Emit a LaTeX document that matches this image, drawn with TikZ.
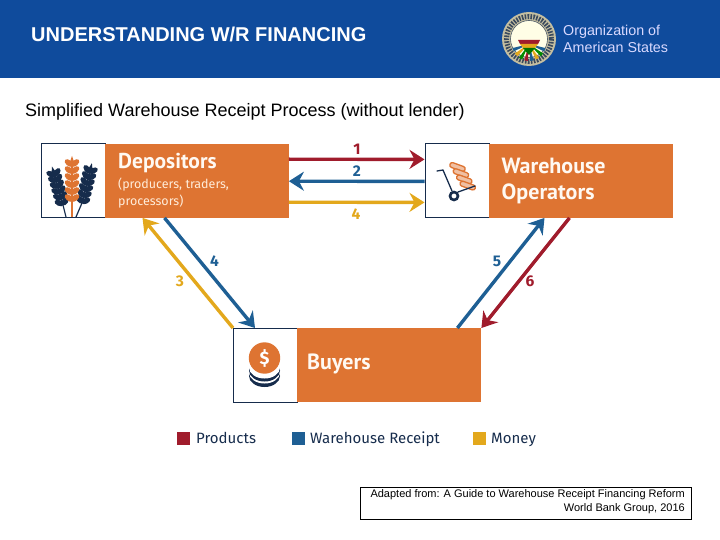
\documentclass[tikz,border=0pt]{standalone}
\usepackage{fontspec}
\setmainfont{Liberation Sans}
\newfontfamily\labelfont{Fira Sans}
\newfontfamily\titlefont{PT Sans}
\usetikzlibrary{arrows.meta}
\definecolor{headerblue}{RGB}{15,75,156}
\definecolor{boxorange}{RGB}{222,116,50}
\definecolor{arrowred}{RGB}{160,28,44}
\definecolor{arrowblue}{RGB}{30,95,148}
\definecolor{arrowyellow}{RGB}{227,168,28}
\definecolor{iconnavy}{RGB}{22,44,76}
\definecolor{logotan}{RGB}{196,190,160}
\tikzstyle{iconbox} = [draw=iconnavy, fill=white, line width=0.8pt, minimum width=64pt, minimum height=74pt, inner sep=0pt, anchor=north west]
\tikzstyle{namebox} = [fill=boxorange, minimum width=184pt, minimum height=74pt, inner sep=0pt, anchor=north west]
\tikzstyle{boxtitle} = [font=\titlefont\bfseries\fontsize{22}{24}\selectfont, text=white!95!orange, anchor=west, inner sep=0pt]
\tikzstyle{boxsub} = [font=\labelfont\fontsize{12.5}{15}\selectfont, text=white!85!orange, anchor=west, inner sep=0pt]
\tikzstyle{num} = [font=\labelfont\bfseries\fontsize{15.5}{17}\selectfont, inner sep=0pt]
\tikzstyle{flow} = [line width=3.4pt, -{Stealth[length=15pt,width=19pt,inset=5pt]}]
\tikzstyle{legendsq} = [minimum size=13pt, inner sep=0pt, anchor=north west]
\tikzstyle{legendtxt} = [font=\labelfont\fontsize{15}{17}\selectfont, text=iconnavy, anchor=west, inner sep=0pt]
% wheat ear: x, y, lean, length, colour
\def\wheathead(#1,#2,#3,#4,#5){
\begin{scope}[shift={(#1,#2)},rotate=#3]
\foreach \t in {0,1,...,5} {
  \fill [#5] (-3.2,{-3-(#4-10)/5*\t}) ellipse [x radius=4.8, y radius=2.9, rotate=-40];
  \fill [#5] (3.2,{-3-(#4-10)/5*\t}) ellipse [x radius=4.8, y radius=2.9, rotate=40];
}
\fill [#5] (0,{-#4}) -- (-3.5,{-#4+10}) -- (3.5,{-#4+10}) -- cycle;
\fill [#5] (-1,0) rectangle (1,{-#4+6});
\end{scope}
}
\begin{document}
\begin{tikzpicture}[x=1pt,y=-1pt]
\useasboundingbox (0,0) rectangle (720,540);
% header
\fill [headerblue] (0,0) rectangle (720,78);
\node (title) [anchor=west, inner sep=0pt, text=white, font=\bfseries\fontsize{20}{22}\selectfont] at (31,34) {UNDERSTANDING W/R FINANCING};
\node (orgname) [anchor=west, inner sep=0pt, align=left, text=white!85!blue, font=\fontsize{14.3}{17}\selectfont] at (563,39) {Organization of\\American States};
% logo
\fill [logotan] (529,39) circle (27);
\draw [iconnavy!80!logotan, line width=5pt, dash pattern=on 1.6pt off 1.3pt] (529,39) circle (22.5);
\fill [white!90!yellow] (529,39) circle (18.5);
\draw [iconnavy!70!logotan, line width=0.6pt] (529,39) circle (18.5);
\foreach \a/\c in {-70/arrowblue,-50/green!55!black,-30/arrowyellow,-10/arrowblue,10/arrowred,30/green!55!black,50/arrowyellow,70/arrowblue} {
  \fill [\c] (529,44) -- ++({\a+90-6}:17) -- ++({\a+90+90}:3.6) -- cycle;
}
\fill [arrowred] (518,40) -- (540,40) -- (538,44) -- (520,44) -- cycle;
\fill [arrowyellow] (520,44) -- (538,44) -- (535,48) -- (523,48) -- cycle;
\fill [green!45!black] (523,48) -- (535,48) -- (529,55) -- cycle;
% subtitle
\node (subtitle) [anchor=west, inner sep=0pt, font=\fontsize{18}{21}\selectfont] at (25,111.5) {Simplified Warehouse Receipt Process (without lender)};
% boxes
\node (depicon) [iconbox] at (40.5,143.5) {};
\node (depbox) [namebox] at (104.5,143.5) {};
\node (whicon) [iconbox] at (424.5,143.5) {};
\node (whbox) [namebox] at (488.5,143.5) {};
\node (buyicon) [iconbox] at (233,328) {};
\node (buybox) [namebox] at (297,328) {};
\node (deptitle) [boxtitle, font=\titlefont\bfseries\fontsize{21.5}{24}\selectfont] at (118,163) {Depositors};
\node (depsub1) [boxsub] at (118,184.5) {(producers, traders,};
\node (depsub2) [boxsub] at (118,201.5) {processors)};
\node (whtitle1) [boxtitle] at (501.5,165.5) {Warehouse};
\node (whtitle2) [boxtitle] at (501.5,193.5) {Operators};
\node (buytitle) [boxtitle] at (307,364) {Buyers};
% wheat
\draw [iconnavy, line width=1.2pt] (66,217)--(63,205);
\draw [iconnavy, line width=1.2pt] (76,217)--(82,203);
\draw [boxorange, line width=1.6pt] (72,217)--(72,200);
\wheathead(63,205,16,40,iconnavy)
\wheathead(82,203,-14,41,iconnavy)
\wheathead(72,201,0,45,boxorange)
% trolley
\foreach \t in {0,1,2,3} {
  \draw [boxorange, fill=white!55!boxorange, line width=1.3pt, rounded corners=2.4pt, rotate around={-20:({457.5+3.4*\t},{167+6.2*\t})}] ({449.5+3.4*\t},{164.5+6.2*\t}) rectangle ({465.5+3.4*\t},{169.5+6.2*\t});
}
\draw [iconnavy, line width=1.3pt, line cap=round] (437,171)--(443,170)--(452,191);
\draw [iconnavy, line width=1.3pt, line cap=round] (458,192)--(475,186);
\draw [iconnavy, line width=2.6pt, fill=white] (454,196) circle (4);
% coins
\fill [iconnavy] (264.5,376) ellipse [x radius=15.5, y radius=11];
\fill [white] (264.5,372.5) ellipse [x radius=15.5, y radius=11];
\fill [iconnavy] (264.5,370.5) ellipse [x radius=15.5, y radius=11];
\fill [white] (264.5,367.5) ellipse [x radius=15.5, y radius=11];
\fill [boxorange] (264.5,358) circle (15.7);
\node (dollar) [inner sep=0pt, text=white, font=\labelfont\bfseries\fontsize{18}{20}\selectfont] at (264.5,358) {\$};
% flows
\draw [flow, arrowred] ([yshift=21.5pt]depbox.east) -- ([yshift=21.5pt]whicon.west);
\draw [flow, arrowblue] ([yshift=-0.5pt]whicon.west) -- ([yshift=-0.5pt]depbox.east);
\draw [flow, arrowyellow] ([yshift=-21.5pt]depbox.east) -- ([yshift=-21.5pt]whicon.west);
\draw [flow, arrowyellow] (buyicon.north west) -- ([xshift=38pt]depbox.south west);
\draw [flow, arrowblue] ([xshift=60pt]depbox.south west) -- ([xshift=22pt]buyicon.north west);
\draw [flow, arrowblue] ([xshift=-24pt]buybox.north east) -- ([xshift=56pt]whbox.south west);
\draw [flow, arrowred] ([xshift=81pt]whbox.south west) -- (buybox.north east);
% flow numbers
\node (n1) [num, text=arrowred] at (357,149) {1};
\node (n2) [num, text=arrowblue] at (357,171) {2};
\node (n4a) [num, text=arrowyellow] at (356,214.5) {4};
\node (n4b) [num, text=arrowblue] at (214.5,261) {4};
\node (n3) [num, text=arrowyellow] at (180,281) {3};
\node (n5) [num, text=arrowblue] at (497,261) {5};
\node (n6) [num, text=arrowred] at (530,281) {6};
% legend
\node (sqred) [legendsq, fill=arrowred] at (177,431.5) {};
\node (sqblue) [legendsq, fill=arrowblue] at (292,432) {};
\node (sqyellow) [legendsq, fill=arrowyellow] at (473,432) {};
\node (lgproducts) [legendtxt] at (196,438) {Products};
\node (lgreceipt) [legendtxt] at (310,439.5) {Warehouse Receipt};
\node (lgmoney) [legendtxt] at (491,439.5) {Money};
% source note
\node (note) [draw=black, line width=0.8pt, anchor=north west, minimum width=331pt, minimum height=32pt, inner sep=0pt] at (360,487) {};
\node (notetext) [anchor=north east, inner sep=0pt, align=right, font=\fontsize{11}{14}\selectfont] at (685,489.5) {Adapted from: A Guide to Warehouse Receipt Financing Reform\\World Bank Group, 2016};
\end{tikzpicture}
\end{document}
